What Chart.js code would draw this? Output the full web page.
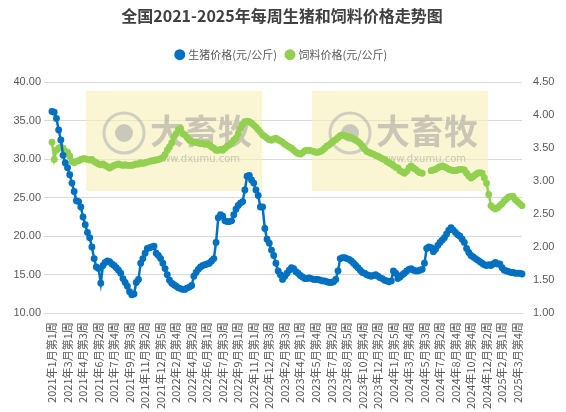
<!DOCTYPE html>
<html><head><meta charset="utf-8">
<script src="https://cdn.jsdelivr.net/npm/chart.js@4/dist/chart.umd.min.js"></script>
<style>body{margin:0;background:#fff}canvas{display:block}</style></head>
<body><canvas id="c" width="566" height="412"></canvas>
<script>
const tickLabels=["2021年1月第1周","2021年3月第1周","2021年4月第3周","2021年6月第2周","2021年7月第4周","2021年9月第3周","2021年11月第2周","2021年12月第5周","2022年2月第4周","2022年4月第2周","2022年6月第1周","2022年7月第3周","2022年9月第1周","2022年11月第1周","2022年12月第3周","2023年2月第3周","2023年4月第1周","2023年5月第4周","2023年7月第2周","2023年8月第5周","2023年10月第4周","2023年12月第2周","2024年1月第5周","2024年3月第4周","2024年5月第3周","2024年7月第2周","2024年8月第4周","2024年10月第4周","2024年12月第2周","2025年2月第1周","2025年3月第4周"];
const pigPrice=[36.2,36.1,35.3,33.8,32.5,30.5,29.5,28.9,28.0,26.9,25.8,24.6,24.5,23.8,22.5,21.5,20.5,19.8,18.6,17.1,16.0,15.8,13.9,16.2,16.6,16.8,16.7,16.4,16.2,15.9,15.6,15.2,14.5,14.0,13.5,12.8,12.4,12.5,14.0,14.4,16.5,17.1,17.8,18.4,18.5,18.6,18.7,17.8,17.5,17.1,16.5,15.8,15.0,14.3,13.9,13.7,13.5,13.3,13.2,13.1,13.1,13.3,13.4,13.6,14.8,15.3,15.7,16.0,16.2,16.3,16.4,16.5,16.8,17.1,19.2,22.4,22.8,22.6,22.0,21.9,21.9,22.0,22.8,23.5,24.0,24.3,24.5,26.0,27.8,27.9,27.3,26.9,26.0,25.3,23.8,23.8,21.0,19.6,19.1,18.2,17.5,16.5,15.5,15.0,14.4,14.8,15.2,15.6,15.9,15.8,15.4,15.2,14.9,14.7,14.5,14.5,14.6,14.5,14.4,14.4,14.4,14.3,14.2,14.2,14.1,14.0,14.0,14.1,14.4,15.5,17.1,17.2,17.2,17.1,17.0,16.8,16.5,16.2,15.9,15.6,15.3,15.2,15.0,14.9,14.8,14.9,15.0,14.8,14.6,14.5,14.3,14.2,14.1,14.2,15.5,15.2,14.5,14.7,15.0,15.2,15.5,15.7,15.8,15.6,15.5,15.5,15.6,15.7,16.5,18.4,18.6,18.5,18.0,18.3,18.8,19.2,19.5,19.8,20.3,20.8,21.1,20.8,20.5,20.2,20.0,19.6,19.2,18.4,17.9,17.5,17.3,17.1,16.9,16.7,16.5,16.3,16.2,16.3,16.2,16.4,16.6,16.4,16.4,15.9,15.6,15.5,15.4,15.3,15.3,15.2,15.2,15.2,15.1];
const feedPrice=[3.59,3.33,3.47,3.50,3.52,3.50,3.45,3.44,3.38,3.30,3.28,3.30,3.31,3.33,3.34,3.34,3.33,3.32,3.33,3.30,3.28,3.26,3.25,3.26,3.24,3.22,3.20,3.22,3.24,3.25,3.26,3.25,3.24,3.25,3.24,3.24,3.24,3.25,3.26,3.26,3.28,3.27,3.28,3.29,3.30,3.31,3.31,3.32,3.33,3.34,3.36,3.40,3.47,3.52,3.58,3.67,3.72,3.78,3.80,3.72,3.70,3.66,3.62,3.60,3.59,3.59,3.58,3.57,3.57,3.56,3.57,3.55,3.52,3.50,3.47,3.47,3.48,3.47,3.50,3.53,3.55,3.58,3.62,3.65,3.72,3.80,3.86,3.90,3.91,3.90,3.88,3.85,3.82,3.78,3.74,3.70,3.68,3.65,3.63,3.62,3.64,3.65,3.63,3.61,3.59,3.56,3.54,3.52,3.50,3.47,3.44,3.42,3.41,3.43,3.46,3.47,3.47,3.46,3.45,3.44,3.44,3.45,3.47,3.50,3.53,3.55,3.58,3.61,3.63,3.66,3.69,3.70,3.69,3.68,3.67,3.66,3.64,3.62,3.60,3.57,3.53,3.49,3.45,3.44,3.42,3.41,3.39,3.38,3.36,3.34,3.33,3.30,3.28,3.26,3.24,3.21,3.20,3.16,3.14,3.12,3.15,3.20,3.23,3.20,3.18,3.15,3.13,3.12,null,null,null,3.16,3.17,3.18,3.20,3.22,3.23,3.22,3.20,3.18,3.17,3.16,3.16,3.17,3.18,3.18,3.17,3.12,3.08,3.05,3.07,3.10,3.12,3.13,3.12,3.05,2.97,2.80,2.63,2.60,2.58,2.60,2.63,2.66,2.70,2.73,2.76,2.77,2.77,2.72,2.69,2.66,2.63];
const weeks=pigPrice.map((v,i)=>i%7===0?(tickLabels[i/7]||''):'');
const wm={id:'wm',beforeDatasetsDraw(ch){const c=ch.ctx;c.save();
 [[86,91],[312,91]].forEach(([x,y])=>{c.fillStyle='rgba(246,238,180,0.6)';c.fillRect(x,y,176,100);
 c.strokeStyle='rgba(180,180,180,0.6)';c.lineWidth=3;c.beginPath();c.arc(x+38,y+42,20,0,Math.PI*2);c.stroke();
 c.fillStyle='rgba(170,170,170,0.6)';c.beginPath();c.arc(x+38,y+42,9,0,Math.PI*2);c.fill();
 c.font='bold 34px "Noto Sans CJK SC"';c.fillStyle='rgba(160,160,160,0.55)';c.textBaseline='middle';c.fillText('大畜牧',x+64,y+40);
 c.font='10px "DejaVu Sans"';c.fillText('www.dxumu.com',x+68,y+68);});c.restore();}};
new Chart(document.getElementById('c'),{type:'line',
data:{labels:weeks,datasets:[
 {label:'生猪价格(元/公斤)',data:pigPrice,yAxisID:'y',borderColor:'#0070C0',backgroundColor:'#0070C0',borderWidth:2.5,pointRadius:2.2,pointHoverRadius:0},
 {label:'饲料价格(元/公斤)',data:feedPrice,yAxisID:'y1',borderColor:'#92D050',backgroundColor:'#92D050',borderWidth:2.5,pointRadius:2.2,pointHoverRadius:0,spanGaps:false}]},
options:{responsive:false,animation:false,
 layout:{padding:{left:4,right:6,top:4,bottom:2}},
 plugins:{title:{display:true,text:'全国2021-2025年每周生猪和饲料价格走势图',font:{size:16,weight:'bold',family:'"Noto Sans CJK SC"'},color:'#404040',padding:{top:2,bottom:14}},
  legend:{labels:{usePointStyle:true,pointStyle:'circle',boxWidth:6,boxHeight:6,padding:10,font:{size:11,family:'"Noto Sans CJK SC"'},color:'#595959'}},tooltip:{enabled:false}},
 scales:{
  x:{grid:{display:false},border:{color:'#d9d9d9'},ticks:{autoSkip:false,maxRotation:90,minRotation:90,font:{size:11,family:'"Noto Sans CJK SC"'},color:'#595959',padding:1}},
  y:{position:'left',min:10,max:40,afterFit(s){s.width=48},ticks:{stepSize:5,callback:v=>v.toFixed(2),font:{size:11},color:'#595959'},grid:{color:'#d9d9d9'},border:{display:false}},
  y1:{position:'right',min:1,max:4.5,afterFit(s){s.width=38},ticks:{stepSize:0.5,callback:v=>v.toFixed(2),font:{size:11},color:'#595959'},grid:{display:false},border:{display:false}}}},
plugins:[wm,{id:'lp',beforeInit(ch){const f=ch.legend.fit;ch.legend.fit=function(){f.bind(ch.legend)();this.height+=12;};}}]});
</script></body></html>
